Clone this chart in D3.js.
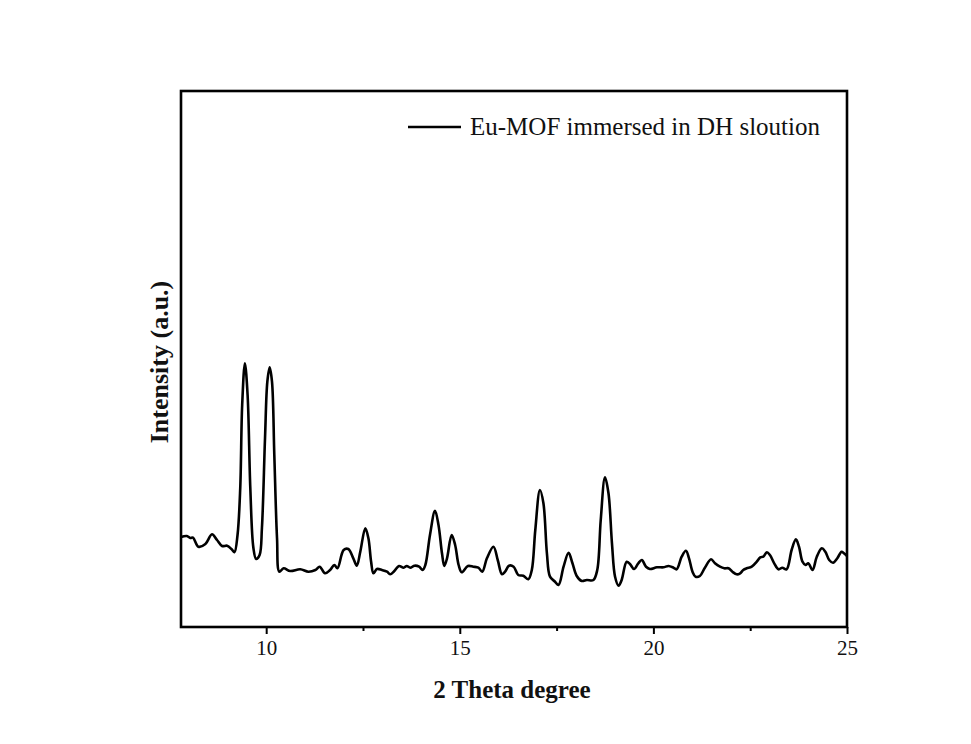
<!DOCTYPE html>
<html>
<head>
<meta charset="utf-8">
<script src="https://cdn.jsdelivr.net/npm/d3@7"></script>
<style>
  body { margin: 0; background: #fff; }
  svg { display: block; }
</style>
</head>
<body>
<svg id="chart" width="971" height="744"></svg>
<script>
// XRD pattern (2 theta in degrees, intensity in a.u.)
var theta = [
    7.80, 7.95, 8.04, 8.11, 8.25, 8.43, 8.60, 8.73, 8.86, 8.99,
    9.11, 9.18, 9.26, 9.33, 9.38, 9.45, 9.52, 9.59, 9.67, 9.74,
    9.83, 9.89, 9.97, 10.03, 10.09, 10.15, 10.21, 10.28, 10.34, 10.45,
    10.62, 10.88, 11.09, 11.27, 11.38, 11.52, 11.65, 11.76, 11.84, 12.00,
    12.12, 12.25, 12.34, 12.43, 12.56, 12.64, 12.71, 12.77, 12.86, 12.99,
    13.12, 13.20, 13.31, 13.43, 13.55, 13.63, 13.72, 13.83, 13.95, 14.04,
    14.11, 14.23, 14.36, 14.45, 14.54, 14.60, 14.67, 14.79, 14.88, 14.97,
    15.05, 15.21, 15.35, 15.48, 15.58, 15.70, 15.87, 15.98, 16.09, 16.17,
    16.27, 16.39, 16.51, 16.64, 16.77, 16.86, 16.95, 17.07, 17.16, 17.25,
    17.33, 17.46, 17.55, 17.68, 17.81, 17.91, 18.02, 18.15, 18.28, 18.45,
    18.55, 18.64, 18.75, 18.84, 18.93, 19.01, 19.10, 19.18, 19.31, 19.40,
    19.50, 19.61, 19.70, 19.81, 19.91, 20.09, 20.26, 20.39, 20.52, 20.60,
    20.73, 20.84, 20.92, 21.01, 21.09, 21.20, 21.33, 21.49, 21.59, 21.72,
    21.83, 21.94, 22.04, 22.15, 22.24, 22.32, 22.41, 22.54, 22.67, 22.76,
    22.84, 22.93, 23.01, 23.12, 23.23, 23.33, 23.44, 23.57, 23.68, 23.76,
    23.85, 23.93, 24.00, 24.11, 24.22, 24.35, 24.44, 24.54, 24.64, 24.75,
    24.86, 24.92, 25.00
];
var intensity = [
    900, 910, 890, 893, 803, 830, 927, 870, 810, 813,
    777, 747, 920, 1390, 2220, 2637, 2320, 1390, 790, 680,
    720, 990, 1890, 2453, 2597, 2453, 1720, 887, 553, 587,
    560, 577, 553, 570, 603, 537, 570, 620, 587, 770,
    780, 687, 613, 753, 987, 887, 653, 537, 580, 570,
    553, 527, 560, 610, 593, 610, 593, 613, 603, 570,
    620, 920, 1163, 1020, 737, 610, 687, 920, 820, 620,
    547, 610, 603, 593, 553, 687, 803, 670, 527, 553,
    613, 603, 520, 513, 477, 570, 970, 1370, 1237, 737,
    503, 453, 420, 603, 743, 637, 510, 460, 470, 470,
    570, 1070, 1497, 1337, 837, 503, 413, 470, 653, 627,
    580, 637, 670, 603, 580, 597, 597, 610, 593, 577,
    703, 763, 687, 553, 503, 510, 593, 677, 637, 603,
    587, 587, 553, 527, 537, 570, 587, 603, 653, 697,
    703, 747, 720, 637, 577, 593, 577, 770, 877, 803,
    653, 620, 637, 570, 703, 787, 753, 670, 643, 687,
    753, 737, 710
];
var xTicks = [10, 15, 20, 25];
var xMinorTicks = [12.5, 17.5, 22.5];
var seriesName = 'Eu-MOF immersed in DH sloution';

var data = theta.map(function(t, i) { return { t: t, v: intensity[i] }; });

var plotLeft = 181, plotRight = 847, plotTop = 91, plotBottom = 627;

var svg = d3.select('#chart');

var x = d3.scaleLinear().domain([7.8, 25]).range([plotLeft, plotRight]);
var y = d3.scaleLinear().domain([0, 5360]).range([plotBottom, plotTop]);

var font = '"Liberation Serif", "Times New Roman", serif';

// bottom axis: major ticks with labels, minor ticks without
var xAxis = svg.append('g')
    .attr('transform', 'translate(0,' + plotBottom + ')')
    .call(d3.axisBottom(x).tickValues(xTicks).tickSize(7).tickPadding(6).tickFormat(d3.format('d')));
xAxis.select('.domain').remove();
xAxis.selectAll('line').attr('stroke', '#000').attr('stroke-width', 2);
xAxis.selectAll('text')
    .attr('fill', '#111')
    .style('font-family', font)
    .style('font-size', '21px');

var xMinor = svg.append('g')
    .attr('transform', 'translate(0,' + plotBottom + ')')
    .call(d3.axisBottom(x).tickValues(xMinorTicks).tickSize(4).tickFormat(''));
xMinor.select('.domain').remove();
xMinor.selectAll('line').attr('stroke', '#000').attr('stroke-width', 2);

// the pattern
var line = d3.line()
    .x(function(d) { return x(d.t); })
    .y(function(d) { return y(d.v); })
    .curve(d3.curveCatmullRom.alpha(0.5));

svg.append('path')
    .datum(data)
    .attr('d', line)
    .attr('fill', 'none')
    .attr('stroke', '#000')
    .attr('stroke-width', 2.6)
    .attr('stroke-linejoin', 'round');

// frame
svg.append('rect')
    .attr('x', plotLeft)
    .attr('y', plotTop)
    .attr('width', plotRight - plotLeft)
    .attr('height', plotBottom - plotTop)
    .attr('fill', 'none')
    .attr('stroke', '#000')
    .attr('stroke-width', 2.6);

// legend
var legend = svg.append('g').attr('transform', 'translate(408,127)');
legend.append('line')
    .attr('x1', 0).attr('x2', 53)
    .attr('y1', 0).attr('y2', 0)
    .attr('stroke', '#000')
    .attr('stroke-width', 2.6);
legend.append('text')
    .attr('x', 62)
    .attr('y', 8)
    .attr('fill', '#111')
    .style('font-family', font)
    .style('font-size', '25px')
    .text(seriesName);

// axis titles
svg.append('text')
    .attr('x', (plotLeft + plotRight) / 2 - 2)
    .attr('y', 698)
    .attr('text-anchor', 'middle')
    .attr('fill', '#111')
    .style('font-family', font)
    .style('font-weight', 'bold')
    .style('font-size', '25px')
    .text('2 Theta degree');

svg.append('text')
    .attr('transform', 'translate(168,362) rotate(-90)')
    .attr('text-anchor', 'middle')
    .attr('fill', '#111')
    .style('font-family', font)
    .style('font-weight', 'bold')
    .style('font-size', '26px')
    .text('Intensity (a.u.)');
</script>
</body>
</html>
